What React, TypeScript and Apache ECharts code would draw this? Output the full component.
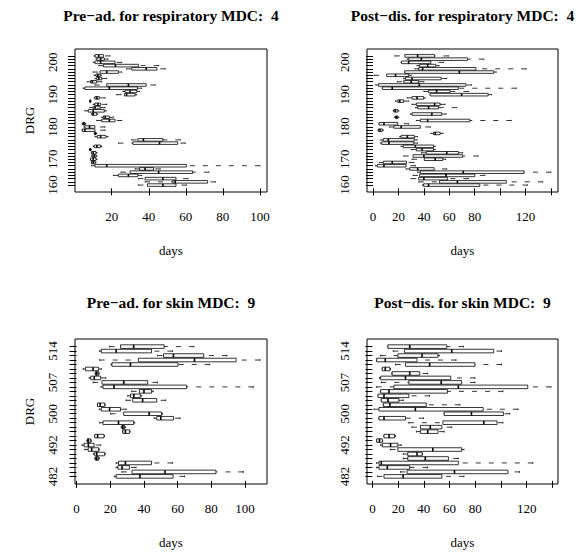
import React, { useEffect, useRef } from "react";
import * as echarts from "echarts";

// ---- categories (DRG codes), listed top to bottom ----
const respDRG = [202, 201, 200, 199, 198, 197, 196, 195, 194, 193, 192, 191, 190, 189, 188, 187, 186, 185, 184, 183, 182, 181, 180, 179, 178, 177, 176, 175, 174, 173, 172, 171, 170, 168, 167, 166, 164, 163, 162, 161, 160];
const skinDRG = [515, 514, 513, 512, 511, 510, 509, 508, 507, 506, 505, 504, 503, 502, 501, 500, 499, 498, 496, 495, 494, 493, 492, 490, 489, 488, 486, 484, 483, 482];
const respShown = [160, 170, 180, 190, 200];
const skinShown = [482, 492, 500, 507, 514];

// ---- x tick values and labels ----
const respPreTicks = [20, 40, 60, 80, 100];
const respPreLabels = [20, 40, 60, 80, 100];
const skinPreTicks = [0, 20, 40, 60, 80, 100];
const skinPreLabels = [0, 20, 40, 60, 80, 100];
const postTicks = [0, 20, 40, 60, 80, 100, 120, 140];
const postLabels = [0, 20, 40, 60, 80, 120];

// ---- titles ----
const titles = [
  "Pre\u2212ad. for respiratory MDC:  4",
  "Post\u2212dis. for respiratory MDC:  4",
  "Pre\u2212ad. for skin MDC:  9",
  "Post\u2212dis. for skin MDC:  9",
];
const xTitle = "days";
const yTitle = "DRG";

// ---- box statistics [min, Q1, median, Q3, max], top to bottom ----
const respPre = [
  [10.5, 11, 13, 15.5, 19],
  [11.5, 12, 14, 16, 18],
  [10, 11, 14, 21.8, 25.4],
  [13, 15.5, 22, 34.4, 45.3],
  [28, 30.8, 38.6, 44.4, 48.9],
  [10, 13.7, 17.3, 23.6, 25.4],
  [10.5, 11.5, 12.5, 13.7, 14.5],
  [11, 11.9, 13, 14.6, 17.3],
  [6.8, 8.6, 9.5, 11.9, 14.6],
  [10.9, 17.3, 29, 38.6, 43.5],
  [4.5, 5.5, 18.7, 33.9, 36.2],
  [26, 27.2, 29.9, 33.5, 35],
  [22.7, 26.8, 28, 32.6, 33.5],
  [10.5, 10.9, 12, 13.3, 16.4],
  [8, 8.2, 8.4, 8.6, 8.8],
  [10, 10.9, 12.5, 14, 17.3],
  [8.2, 10, 11, 13.7, 16.4],
  [5.5, 7.3, 10, 16, 17],
  [9, 9.5, 10, 11.9, 12.5],
  [14.6, 15.5, 16.5, 18.7, 20.9],
  [11.9, 14.6, 18.7, 21.8, 25.4],
  [4, 4.3, 5, 5.5, 6],
  [5, 5.5, 8, 10.9, 16.4],
  [4, 4.2, 5.5, 10.9, 16.4],
  [10.6, 10.9, 11, 11.5, 11.9],
  [11, 12.2, 14, 16.9, 18],
  [30.8, 34.1, 37.1, 47.6, 57],
  [23.6, 31.4, 45.8, 55.6, 59.7],
  [10, 10.6, 12, 14, 14.6],
  [8, 8.2, 8.4, 8.6, 9],
  [9, 9.1, 10, 11.5, 12],
  [9, 9.5, 10.5, 11.5, 12],
  [8.5, 8.6, 10, 11.5, 12],
  [9, 9.1, 10, 11, 11.5],
  [9, 10.9, 17.3, 60.3, 100],
  [32.6, 35, 38, 42.6, 46.2],
  [25, 29.9, 45.3, 63.7, 72.4],
  [20.9, 23.6, 29, 34.1, 36.2],
  [34.4, 38, 47.6, 54.7, 61.2],
  [38, 53, 54.3, 71.8, 76],
  [34.4, 39.3, 47.6, 54.7, 60.3],
];

const respPost = [
  [17.2, 25, 35.1, 48.4, 59.3],
  [26.8, 28.1, 38, 74.4, 87.2],
  [22, 22.4, 28, 45.5, 55.4],
  [34.6, 36.7, 43, 49.4, 52],
  [33, 35.9, 39, 81, 120.5],
  [25, 25, 67.9, 95, 97],
  [0.8, 10.7, 17.7, 28.1, 30],
  [24, 25.5, 30.7, 53.6, 58],
  [19, 24.2, 30, 35.9, 40],
  [2.1, 4.2, 36.4, 73.1, 77.5],
  [7.3, 7.3, 15.1, 67.1, 112.7],
  [40, 43.7, 50, 60.6, 75],
  [45, 45, 69.7, 90.6, 93.2],
  [26.8, 30.7, 34.6, 39.8, 41],
  [17.7, 19.5, 21, 24.2, 28.1],
  [30.7, 34.1, 48.4, 52.8, 56.7],
  [33.4, 35.1, 43.7, 51.5, 65.8],
  [15.9, 16.4, 17.5, 19.5, 20.3],
  [29.4, 30.7, 46.3, 54.1, 57.5],
  [17, 17.7, 18.5, 19.5, 20.3],
  [34.1, 37.2, 43, 76.2, 108.8],
  [4.7, 4.7, 8.6, 19.5, 28.1],
  [13, 16.4, 22.1, 37.2, 45],
  [4, 4.2, 5.5, 7.3, 8],
  [45.5, 47.6, 49, 52.8, 55],
  [21, 22.1, 27, 32.5, 35],
  [6, 8.1, 12, 32.5, 34.6],
  [6, 6.8, 12.5, 32, 35],
  [22, 23.7, 33.3, 47.6, 48.9],
  [30, 34.1, 38.5, 47.6, 49],
  [38, 41.9, 58, 67.1, 70.5],
  [24.2, 31.5, 40, 70.5, 82.7],
  [30.7, 40.3, 48.9, 54.9, 57],
  [5, 8.1, 15.1, 26.3, 32],
  [2, 3.4, 8.6, 26, 33.3],
  [26, 28.9, 35.1, 48.1, 58],
  [35, 37.2, 71, 118.7, 140],
  [31.5, 36.7, 57.5, 80.1, 88],
  [30, 35.9, 40, 58.5, 75],
  [36, 52.3, 66.4, 104.9, 133.5],
  [39, 39.8, 43.7, 84, 121.5],
];

const skinPre = [
  [19.6, 26.1, 33.9, 52, 69.6],
  [13.7, 14.7, 23.5, 44.5, 56.9],
  [48, 51.6, 57.5, 75.5, 89.2],
  [13.7, 36.7, 70, 94.7, 108.8],
  [20.5, 21, 32, 60.2, 79],
  [3.9, 5.3, 9.8, 13.1, 14.7],
  [11, 11.2, 12, 13.1, 13.5],
  [7.5, 8.4, 10.5, 14.3, 17.3],
  [9.8, 15.1, 28, 42.2, 48],
  [14.5, 15.7, 22.2, 65.3, 104.9],
  [32.7, 37.3, 40, 44.5, 45.5],
  [30.4, 32, 34, 37.8, 38.5],
  [29.4, 33.3, 39.2, 47.6, 52.9],
  [12.4, 12.4, 14, 16.7, 17],
  [13.5, 14.7, 19.6, 26.1, 29.4],
  [20.2, 28, 43.1, 50.4, 51],
  [46, 47.6, 50, 57.5, 61.4],
  [13.7, 15.7, 24.9, 33.9, 34.5],
  [26.5, 26.9, 27.5, 28.4, 29],
  [27.3, 27.5, 29, 31.4, 31.8],
  [10.8, 10.8, 12.5, 16.3, 16.5],
  [6.1, 6.5, 7, 8.4, 8.8],
  [3.3, 4.5, 7, 10.4, 14.3],
  [4.9, 6.9, 9, 13.1, 13.5],
  [10, 10.8, 12, 16.7, 17],
  [10.8, 11.2, 12, 13.1, 13.5],
  [23.5, 24.9, 29, 44.5, 56.9],
  [23.5, 24.5, 27, 31.4, 35.3],
  [26.9, 32.9, 52.5, 82.7, 99],
  [22.5, 23.5, 37.6, 57.3, 64.1],
];

const skinPost = [
  [12.1, 12.1, 29, 57.8, 70.7],
  [16.2, 24.9, 61.7, 94.3, 100.3],
  [6.4, 19.8, 38.6, 50.9, 52],
  [3.3, 3.3, 10, 34.7, 65],
  [18, 25.7, 44.5, 79.7, 100.3],
  [7.7, 7.7, 10, 13.6, 14],
  [15, 15.4, 29, 36.8, 43],
  [5.5, 6.4, 25.7, 60.9, 79.7],
  [6.9, 28.3, 53.5, 69.4, 79.7],
  [3.3, 16.7, 66.8, 120.8, 138.8],
  [6.4, 6.4, 12.9, 58.4, 101.5],
  [4.4, 4.4, 9, 28.3, 44.5],
  [6.9, 6.9, 12.1, 20.6, 24],
  [8.5, 8.5, 13.6, 41.9, 68],
  [1.3, 5.1, 33.4, 86.1, 113.1],
  [55.8, 55.8, 77, 102, 106.7],
  [5.1, 5.1, 9, 25.7, 39.8],
  [28.3, 54.8, 86.6, 96.9, 101.5],
  [30.8, 37.3, 45, 54, 61.7],
  [34.2, 37.3, 43, 51, 55.8],
  [9, 9, 12.9, 17.2, 18],
  [3.3, 3.3, 5.5, 7.7, 8],
  [6.4, 7.7, 14.1, 19.8, 22.4],
  [14, 19.8, 47, 69.4, 71.2],
  [24, 27.5, 34.7, 38.6, 39],
  [24, 27.5, 41.1, 59.1, 66.8],
  [3.3, 5.1, 6.9, 66.8, 124.7],
  [3.3, 5.1, 11.6, 29, 42.9],
  [21.9, 27, 63.8, 105.4, 114.4],
  [3.9, 9, 23.9, 54, 71.2],
];

const FONT = '"Liberation Serif", "Times New Roman", serif';

type Panel = {
  rows: number[][];
  drg: number[];
  shown: number[];
  ticks: number[];
  labels: number[];
  rect: { left: number; top: number; width: number; height: number };
  title: string;
  titleY: number;
  showY: boolean;
};

const panels: Panel[] = [
  { rows: respPre, drg: respDRG, shown: respShown, ticks: respPreTicks, labels: respPreLabels, rect: { left: 75, top: 49, width: 192, height: 143 }, title: titles[0], titleY: 15, showY: true },
  { rows: respPost, drg: respDRG, shown: respShown, ticks: postTicks, labels: postLabels, rect: { left: 367, top: 49, width: 191, height: 143 }, title: titles[1], titleY: 15, showY: false },
  { rows: skinPre, drg: skinDRG, shown: skinShown, ticks: skinPreTicks, labels: skinPreLabels, rect: { left: 75, top: 339, width: 192, height: 145 }, title: titles[2], titleY: 302, showY: true },
  { rows: skinPost, drg: skinDRG, shown: skinShown, ticks: postTicks, labels: postLabels, rect: { left: 367, top: 339, width: 191, height: 145 }, title: titles[3], titleY: 302, showY: false },
];

function buildOption() {
  const grid: any[] = [];
  const xAxis: any[] = [];
  const yAxis: any[] = [];
  const series: any[] = [];
  const graphic: any[] = [];

  panels.forEach((p, i) => {
    const n = p.drg.length;
    const lo = Math.min(...p.rows.map((r) => r[0]));
    const hi = Math.max(...p.rows.map((r) => r[4]));
    const pad = (hi - lo) * 0.04;
    const posOf = (code: number) => n - p.drg.indexOf(code);
    const codeAt = (pos: number) => p.drg[n - Math.round(pos)];

    grid.push({ ...p.rect, show: true, borderColor: "#000", borderWidth: 1, backgroundColor: "transparent" });

    xAxis.push({
      type: "value",
      gridIndex: i,
      min: lo - pad,
      max: hi + pad,
      splitLine: { show: false },
      axisLine: { show: false },
      axisTick: { show: true, length: 7, lineStyle: { color: "#000", width: 1 }, customValues: p.ticks },
      axisLabel: { show: true, customValues: p.labels, margin: 18, color: "#000", fontFamily: FONT, fontSize: 13, formatter: (v: number) => String(v) },
    });

    yAxis.push({
      type: "value",
      gridIndex: i,
      min: 0.5 - 0.04 * n,
      max: n + 0.5 + 0.04 * n,
      splitLine: { show: false },
      axisLine: { show: false },
      axisTick: { show: true, length: 7, lineStyle: { color: "#000", width: 1 }, customValues: p.drg.map((_, k) => n - k) },
      axisLabel: {
        show: true,
        rotate: 90,
        customValues: p.shown.map(posOf),
        margin: 16,
        color: "#000",
        fontFamily: FONT,
        fontSize: 13,
        formatter: (v: number) => String(codeAt(v)),
      },
    });

    series.push({
      type: "custom",
      xAxisIndex: i,
      yAxisIndex: i,
      silent: true,
      encode: { x: [1, 2, 3, 4, 5], y: 0 },
      data: p.rows.map((r, k) => [n - k, ...r]),
      renderItem: (params: any, api: any) => {
        const y = api.value(0);
        const pts = [1, 2, 3, 4, 5].map((d) => api.coord([api.value(d), y]));
        const cy = pts[0][1];
        const unit = Math.abs(api.size([0, 1])[1]);
        const hh = unit * 0.4;
        const sh = unit * 0.2;
        const ink = "#000";
        const dashed = { stroke: ink, lineWidth: 0.8, lineDash: [5, 8], fill: null };
        const solid = { stroke: ink, lineWidth: 0.8, fill: null };
        return {
          type: "group",
          children: [
            { type: "line", shape: { x1: pts[0][0], y1: cy, x2: pts[1][0], y2: cy }, style: dashed },
            { type: "line", shape: { x1: pts[4][0], y1: cy, x2: pts[3][0], y2: cy }, style: dashed },
            { type: "line", shape: { x1: pts[0][0], y1: cy - sh, x2: pts[0][0], y2: cy + sh }, style: solid },
            { type: "line", shape: { x1: pts[4][0], y1: cy - sh, x2: pts[4][0], y2: cy + sh }, style: solid },
            {
              type: "rect",
              shape: { x: pts[1][0], y: cy - hh, width: Math.max(pts[3][0] - pts[1][0], 0.5), height: hh * 2 },
              style: { stroke: ink, lineWidth: 0.8, fill: "#fff" },
            },
            { type: "line", shape: { x1: pts[2][0], y1: cy - hh, x2: pts[2][0], y2: cy + hh }, style: { stroke: ink, lineWidth: 1.6 } },
          ],
        };
      },
    });

    const cx = p.rect.left + p.rect.width / 2;
    const cyMid = p.rect.top + p.rect.height / 2;
    graphic.push({
      type: "text",
      x: cx,
      y: p.titleY,
      style: { text: p.title, fill: "#000", fontFamily: FONT, fontSize: 15.5, fontWeight: "bold", align: "center", verticalAlign: "middle" },
    });
    graphic.push({
      type: "text",
      x: cx,
      y: p.rect.top + p.rect.height + 58,
      style: { text: xTitle, fill: "#000", fontFamily: FONT, fontSize: 13, align: "center", verticalAlign: "middle" },
    });
    if (p.showY) {
      graphic.push({
        type: "text",
        x: p.rect.left - 46,
        y: cyMid,
        rotation: Math.PI / 2,
        style: { text: yTitle, fill: "#000", fontFamily: FONT, fontSize: 13, align: "center", verticalAlign: "middle" },
      });
    }
  });

  return { animation: false, backgroundColor: "#fff", grid, xAxis, yAxis, series, graphic };
}

export default function App() {
  const ref = useRef<HTMLDivElement>(null);
  useEffect(() => {
    if (!ref.current) return;
    const chart = echarts.init(ref.current, undefined, { renderer: "svg" });
    chart.setOption(buildOption() as any);
    return () => chart.dispose();
  }, []);
  return <div ref={ref} style={{ position: "fixed", left: 0, top: 0, width: 581, height: 552, background: "#fff" }} />;
}
